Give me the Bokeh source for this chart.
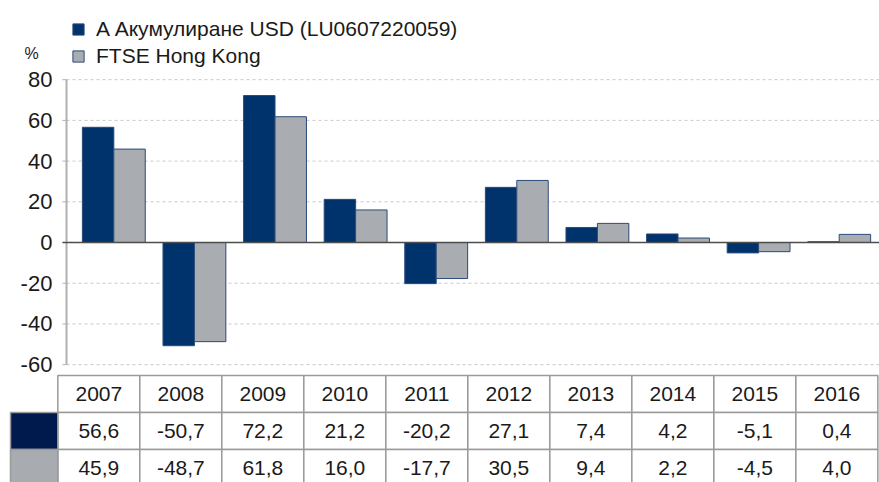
import numpy as np
from bokeh.plotting import figure
from bokeh.models import (Range1d, ColumnDataSource, Legend, LegendItem, Label)
from bokeh.embed import file_html
from bokeh.resources import INLINE
from bokeh.core.properties import value

# ---------------- data ----------------
years = ["2007", "2008", "2009", "2010", "2011", "2012", "2013", "2014", "2015", "2016"]
fund = [56.6, -50.7, 72.2, 21.2, -20.2, 27.1, 7.4, 4.2, -5.1, 0.4]
bench = [45.9, -48.7, 61.8, 16.0, -17.7, 30.5, 9.4, 2.2, -4.5, 4.0]
series_names = ["A Акумулиране USD (LU0607220059)", "FTSE Hong Kong"]
y_ticks = [-60, -40, -20, 0, 20, 40, 60, 80]
unit_label = "%"

# ---------------- styles ----------------
DARK = "#00336c"
GREY = "#a9adb1"
EDGE = "#2a4a7a"
CELL_DARK = "#001a4e"
CELL_GREY = "#a8abaf"
FONT = "Liberation Sans"
TXT = "#1a1a1a"
W, H = 879, 482

# chart coordinate system (category index / percent)
X0, X1 = -0.906, 10.0
Y0, Y1 = -117.9, 118.9
AXIS_X = -0.087          # position of the value axis, in category units
TICK = 0.05

p = figure(width=W, height=H, x_range=Range1d(X0, X1), y_range=Range1d(Y0, Y1),
           output_backend="svg", toolbar_location=None, title=None,
           x_axis_type=None, y_axis_type=None,
           min_border_left=0, min_border_right=0, min_border_top=0, min_border_bottom=0,
           outline_line_color=None, background_fill_color="white")
p.grid.visible = False

idx = np.arange(len(years)) + 0.5
src = ColumnDataSource(dict(x1=idx - 0.195, x2=idx + 0.195, fund=fund, bench=bench))

# grid lines
grid_vals = [t for t in y_ticks if t != 0]
p.segment(x0=[AXIS_X] * len(grid_vals), x1=[X1] * len(grid_vals), y0=grid_vals, y1=grid_vals,
          line_color="#c8c8c8", line_dash="3 3", line_width=1)

r1 = p.vbar(x="x1", top="fund", bottom=0, width=0.39, source=src,
            fill_color=DARK, line_color=EDGE, line_width=1)
r2 = p.vbar(x="x2", top="bench", bottom=0, width=0.39, source=src,
            fill_color=GREY, line_color=EDGE, line_width=1)

# value axis
p.segment(x0=[AXIS_X], x1=[AXIS_X], y0=[min(y_ticks)], y1=[max(y_ticks)],
          line_color="#b0b0b0", line_width=2)
p.segment(x0=[AXIS_X - TICK] * len(y_ticks), x1=[AXIS_X] * len(y_ticks), y0=y_ticks, y1=y_ticks,
          line_color="#b0b0b0", line_width=1)
p.text(x=[AXIS_X - 0.175] * len(y_ticks), y=y_ticks, text=[str(t) for t in y_ticks],
       text_align="right", text_baseline="middle", text_font=value(FONT),
       text_font_size="22px", text_color=TXT)
# zero line
p.segment(x0=[AXIS_X - TICK], x1=[X1], y0=[0], y1=[0], line_color="#4d4d4d", line_width=1.5)

legend = Legend(items=[LegendItem(label=series_names[0], renderers=[r1]),
                       LegendItem(label=series_names[1], renderers=[r2])],
                location=(71, 414), orientation="vertical",
                glyph_width=14, glyph_height=14, label_standoff=11,
                padding=0, margin=0, spacing=3, label_height=20,
                border_line_color=None, background_fill_alpha=0,
                label_text_font=FONT, label_text_font_size="21px", label_text_color=TXT)
p.add_layout(legend)

p.add_layout(Label(x=31, y=429, x_units="screen", y_units="screen", text=unit_label,
                   text_align="center", text_baseline="middle",
                   text_font=FONT, text_font_size="16px", text_color=TXT))

# ---------------- table (own coordinate system: column / row index) ----------------
p.extra_x_ranges["tbl"] = Range1d(-0.699, 10.02)
p.extra_y_ranges["tbl"] = Range1d(0.108, 13.135)
CELL_LEFT = -0.577
BORDER = "#9a9a9a"
cols = np.arange(len(years))
tb = dict(x_range_name="tbl", y_range_name="tbl")
for top, bottom in [(3, 2), (2, 1), (1, 0)]:
    p.quad(left=cols, right=cols + 1, top=top, bottom=bottom,
           fill_color="white", line_color=BORDER, line_width=1.5, **tb)
p.quad(left=[CELL_LEFT, CELL_LEFT], right=[0, 0], top=[2, 1], bottom=[1, 0],
       fill_color=[CELL_DARK, CELL_GREY], line_color=BORDER, line_width=1.5, **tb)


def fmt(v):
    return f"{v:.1f}".replace(".", ",")


tsrc = ColumnDataSource(dict(x=cols + 0.5, years=years,
                             f=[fmt(v) for v in fund], b=[fmt(v) for v in bench]))
common = dict(text_align="center", text_baseline="middle", text_font=value(FONT),
              text_font_size="21px", text_color=TXT, source=tsrc, **tb)
p.text(x="x", y=2.5, text="years", **common)
p.text(x="x", y=1.5, text="f", **common)
p.text(x="x", y=0.5, text="b", **common)

open("out.html", "w").write(file_html(p, INLINE))
